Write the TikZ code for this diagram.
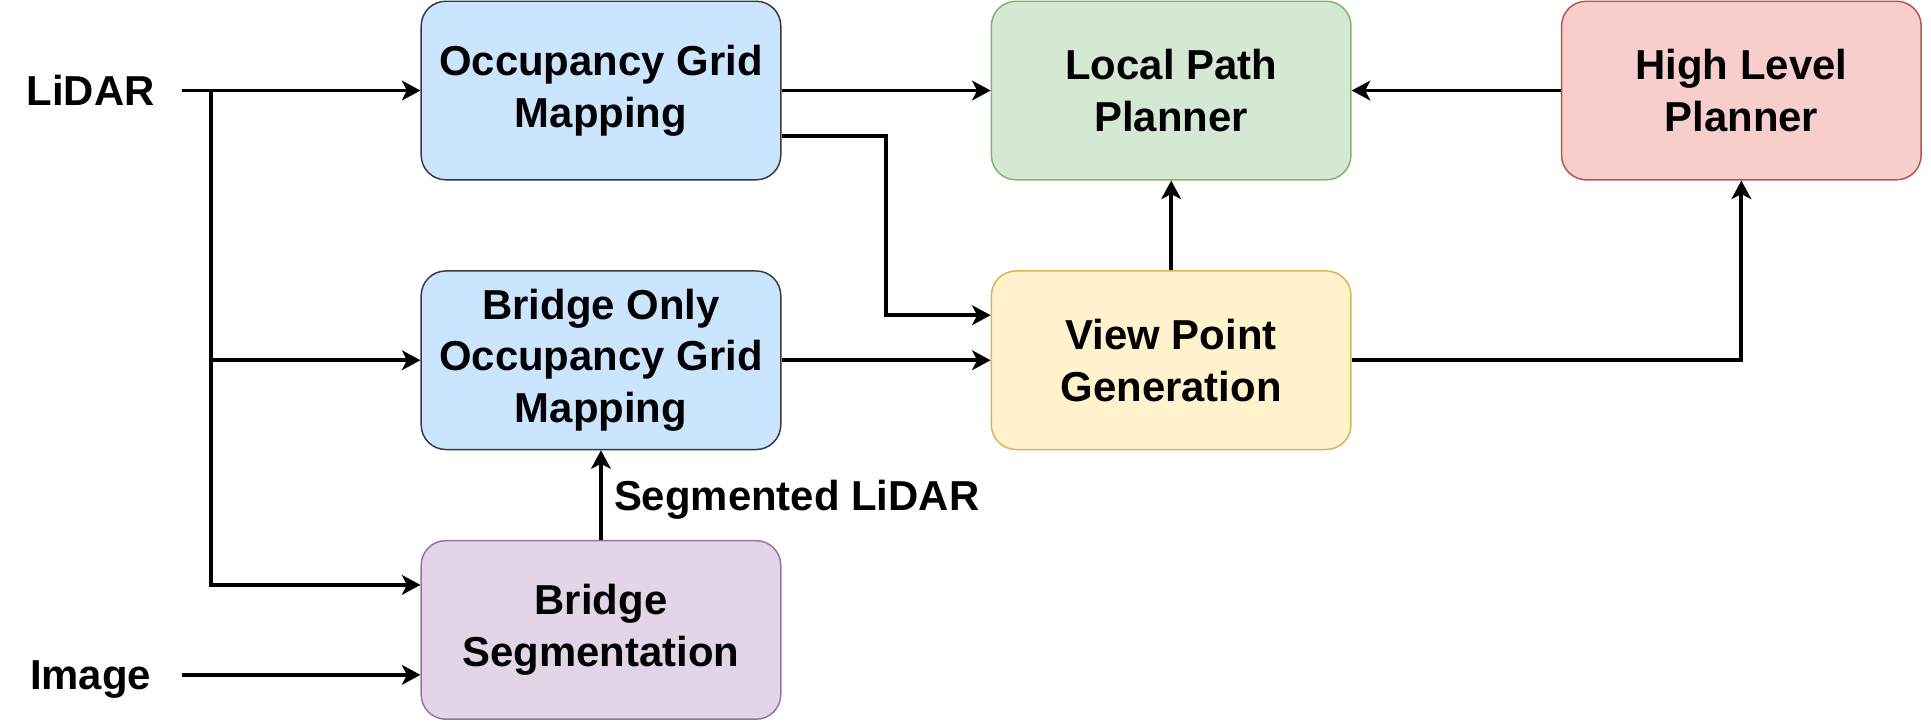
\documentclass[tikz,border=0pt]{standalone}
\usepackage{fontspec}
\setmainfont{Liberation Sans}
\usepackage{xcolor}
\usepackage{tikz}
\usetikzlibrary{shapes.geometric, arrows.meta, calc}
\definecolor{mapfill}{HTML}{CCE5FF}
\definecolor{mapdraw}{HTML}{36393D}
\definecolor{localfill}{HTML}{D5E8D4}
\definecolor{localdraw}{HTML}{82B366}
\definecolor{highfill}{HTML}{F8CECC}
\definecolor{highdraw}{HTML}{B85450}
\definecolor{viewfill}{HTML}{FFF2CC}
\definecolor{viewdraw}{HTML}{D6B656}
\definecolor{segfill}{HTML}{E1D5E7}
\definecolor{segdraw}{HTML}{9673A6}
\tikzstyle{block} = [rectangle, rounded corners=10pt, minimum width=146pt, minimum height=72.5pt, text centered, align=center, line width=0.6pt, font=\fontsize{17}{21}\selectfont\bfseries]
\tikzstyle{mapping} = [block, draw=mapdraw, fill=mapfill]
\tikzstyle{local} = [block, draw=localdraw, fill=localfill]
\tikzstyle{high} = [block, draw=highdraw, fill=highfill]
\tikzstyle{view} = [block, draw=viewdraw, fill=viewfill]
\tikzstyle{segment} = [block, draw=segdraw, fill=segfill]
\tikzstyle{signal} = [minimum width=73.5pt, inner sep=0pt, text depth=0pt, text centered, font=\fontsize{17}{21}\selectfont\bfseries]
\tikzstyle{arrow} = [line width=1.6pt,->,>={Stealth[length=7.5pt,width=8pt,inset=2pt]}]

\begin{document}
\begin{tikzpicture}[x=0.5pt, y=-0.5pt, node distance=231.5pt]
        \useasboundingbox (0,0) rectangle (1568,585.5);

        % Nodes
        \node (ogm) [mapping] at (488,73.5) {Occupancy Grid\\Mapping};
        \node (lpp) [local, right of=ogm] {Local Path\\Planner};
        \node (hlp) [high, right of=lpp] {High Level\\Planner};
        \node (bogm) [mapping, below of=ogm, node distance=109.5pt] {Bridge Only\\Occupancy Grid\\Mapping};
        \node (vpg) [view, below of=lpp, node distance=109.5pt] {View Point\\Generation};
        \node (seg) [segment, below of=bogm, node distance=109.5pt] {Bridge\\Segmentation};
        \node (lidar) [signal, left of=ogm, node distance=207.25pt] {LiDAR};
        \node (image) [signal] at (73.5,548) {Image};
        \coordinate (tap) at ([xshift=12pt]lidar.east);

        % Arrows
        \draw [arrow] (lidar) -- (ogm);
        \draw [arrow] (tap) |- (bogm.west);
        \draw [arrow] (tap) |- ($(seg.north west)!0.25!(seg.south west)$);
        \draw [arrow] (image) -- (image -| seg.west);
        \draw [arrow] (ogm) -- (lpp);
        \draw [arrow] ($(ogm.north east)!0.75!(ogm.south east)$) -- ++(85,0) |- ($(vpg.north west)!0.25!(vpg.south west)$);
        \draw [arrow] (bogm) -- (vpg);
        \draw [arrow] (seg) -- node (seglabel) [signal, right, inner sep=4.5pt, minimum width=0pt] {Segmented LiDAR} (bogm);
        \draw [arrow] (vpg) -- (lpp);
        \draw [arrow] (hlp) -- (lpp);
        \draw [arrow] (vpg.east) -| (hlp.south);

    \end{tikzpicture}
\end{document}
